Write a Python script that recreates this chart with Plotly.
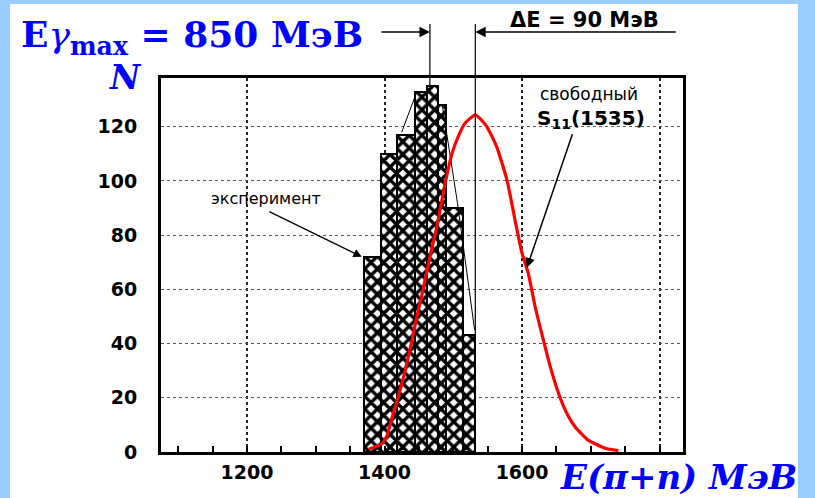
import plotly.graph_objects as go

# ---------------- data ----------------
bin_lo = [1370, 1395, 1418, 1444, 1462, 1478, 1490, 1514]
bin_hi = [1395, 1418, 1444, 1462, 1478, 1490, 1514, 1532]
counts = [72, 110, 117, 133, 135, 128, 90, 43]

curve_E = [1377, 1396, 1403, 1410, 1420, 1430, 1440, 1447, 1456, 1466, 1476, 1488,
           1498, 1507, 1517, 1532, 1541, 1549, 1563, 1578, 1591, 1600, 1609, 1619,
           1631, 1641, 1653, 1665, 1677, 1696, 1721, 1740]
curve_N = [1, 3, 5.6, 11.8, 20.4, 30, 41.3, 50, 59.8, 72, 83, 99,
           110, 116.3, 121.3, 124.4, 122.5, 120, 112.7, 100.4, 84, 73.3, 66, 53.6,
           41.3, 31.5, 21.7, 14.3, 9.3, 4.4, 1.4, 0.5]

outline_E = [1425, 1447, None, 1484, 1506, 1531]
outline_N = [118, 133, None, 128, 92, 45]

x_ticks = [1200, 1400, 1600, 1800]
x_ticklabels = ["1200", "1400", "1600", ""]
y_ticks = [0, 20, 40, 60, 80, 100, 120]

line_left_E = 1466
line_right_E = 1532

X_RANGE = [1075, 1834]
Y_RANGE = [0, 138]

# ---------------- geometry helpers ----------------
W, H = 815, 498
L, R, T, B = 161, 683, 78, 452


def px(xp):
    return (xp - L) / (R - L)


def py(yp):
    return (B - yp) / (B - T)


def yd(v):
    return (v - Y_RANGE[0]) / (Y_RANGE[1] - Y_RANGE[0])


centers = [(a + b) / 2 for a, b in zip(bin_lo, bin_hi)]
widths = [b - a for a, b in zip(bin_lo, bin_hi)]

fig = go.Figure()

fig.add_trace(go.Bar(
    x=centers, y=counts, width=widths,
    marker=dict(color="white",
                line=dict(color="black", width=2),
                pattern=dict(shape="x", fgcolor="black", bgcolor="white",
                             size=9, solidity=0.6, fillmode="replace")),
    showlegend=False, hoverinfo="skip"))

fig.add_trace(go.Scatter(
    x=outline_E, y=outline_N, mode="lines",
    line=dict(color="black", width=1), showlegend=False, hoverinfo="skip"))

fig.add_trace(go.Scatter(
    x=curve_E, y=curve_N, mode="lines",
    line=dict(color="#FF0000", width=3.2, shape="spline", smoothing=0.5),
    showlegend=False, hoverinfo="skip"))

SCAN_FONT = "DejaVu Sans"
SERIF = "DejaVu Serif, Liberation Serif, serif"
BLUE = "#0000FF"

annotations = [
    dict(xref="paper", yref="paper", x=px(19), y=py(37), xanchor="left", yanchor="middle",
         text="<b>E</b><i>γ</i><sub><b>max</b></sub><b> = 850 MэВ</b>",
         font=dict(family=SERIF, size=36, color=BLUE), showarrow=False),
    dict(xref="paper", yref="paper", x=px(125), y=py(77), xanchor="center", yanchor="middle",
         text="<b><i>N</i></b>", font=dict(family=SERIF, size=33, color=BLUE), showarrow=False),
    dict(xref="paper", yref="paper", x=px(678), y=py(477), xanchor="center", yanchor="middle",
         text="<b><i>E(π+n) MэВ</i></b>", font=dict(family=SERIF, size=34, color=BLUE),
         showarrow=False),
    dict(xref="paper", yref="paper", x=px(266), y=py(198), xanchor="center", yanchor="middle",
         text="эксперимент", font=dict(family=SCAN_FONT, size=16, color="black"),
         showarrow=False),
    dict(xref="paper", yref="paper", x=px(589), y=py(94), xanchor="center", yanchor="middle",
         text="свободный", font=dict(family=SCAN_FONT, size=17, color="black"),
         showarrow=False),
    dict(xref="paper", yref="paper", x=px(591), y=py(119), xanchor="center", yanchor="middle",
         text="<b>S<sub>11</sub>(1535)</b>", font=dict(family=SCAN_FONT, size=20, color="black"),
         showarrow=False),
    dict(xref="paper", yref="paper", x=px(584), y=py(20), xanchor="center", yanchor="middle",
         text="<b>ΔE = 90 MэВ</b>", font=dict(family=SCAN_FONT, size=21, color="black"),
         showarrow=False),
    # arrows
    dict(xref="x", yref="y", x=1367, y=72, ax=-94, ay=-46, text="", showarrow=True,
         arrowhead=2, arrowsize=1.3, arrowwidth=1.3, arrowcolor="black", standoff=0),
    dict(xref="x", yref="y", x=1607, y=68, ax=46, ay=-135, text="", showarrow=True,
         arrowhead=2, arrowsize=1.3, arrowwidth=1.5, arrowcolor="black", standoff=0),
    dict(xref="x", yref="paper", x=line_left_E, y=py(32), ax=-50, ay=0, text="", showarrow=True,
         arrowhead=2, arrowsize=1.6, arrowwidth=1.3, arrowcolor="black", standoff=0),
    dict(xref="x", yref="paper", x=line_right_E, y=py(32), ax=202, ay=0, text="", showarrow=True,
         arrowhead=2, arrowsize=1.6, arrowwidth=1.3, arrowcolor="black", standoff=0),
]

BORDER = "#99CCFF"
shapes = [
    dict(type="line", xref="x", yref="paper", x0=line_left_E, x1=line_left_E,
         y0=yd(135), y1=py(24), line=dict(color="black", width=1.2), layer="above"),
    dict(type="line", xref="x", yref="paper", x0=line_right_E, x1=line_right_E,
         y0=yd(0), y1=py(24), line=dict(color="black", width=1.2), layer="above"),
    dict(type="rect", xref="paper", yref="paper", x0=px(0), x1=px(10), y0=py(H), y1=py(0),
         fillcolor=BORDER, line=dict(width=0), layer="above"),
    dict(type="rect", xref="paper", yref="paper", x0=px(10), x1=px(798), y0=py(4), y1=py(0),
         fillcolor=BORDER, line=dict(width=0), layer="above"),
    dict(type="rect", xref="paper", yref="paper", x0=px(798), x1=px(W), y0=py(H), y1=py(0),
         fillcolor=BORDER, line=dict(width=0), layer="above"),
]

fig.update_layout(
    width=W, height=H, autosize=False,
    margin=dict(l=L, r=W - R, t=T, b=H - B, pad=0),
    paper_bgcolor="white", plot_bgcolor="white",
    bargap=0, showlegend=False,
    annotations=annotations, shapes=shapes,
    xaxis=dict(range=X_RANGE, tickvals=x_ticks, ticktext=x_ticklabels,
               showgrid=True, griddash="dot", gridcolor="#222222", gridwidth=2,
               zeroline=False, showline=True, linecolor="black", linewidth=3, mirror=True,
               ticks="inside", ticklen=6, tickcolor="black", tickwidth=1.5,
               minor=dict(dtick=50, tick0=1200, ticks="inside", ticklen=6,
                          tickcolor="black", tickwidth=1.5, showgrid=False),
               tickfont=dict(family=SCAN_FONT, size=19, color="black", weight="bold"),
               ticklabelstandoff=1),
    yaxis=dict(range=Y_RANGE, tickvals=y_ticks,
               showgrid=True, griddash="dot", gridcolor="#555555", gridwidth=1,
               zeroline=False, showline=True, linecolor="black", linewidth=3, mirror=True,
               ticks="", tickfont=dict(family=SCAN_FONT, size=19, color="black", weight="bold"),
               ticklabelstandoff=17),
)

fig.write_html("out.html")
